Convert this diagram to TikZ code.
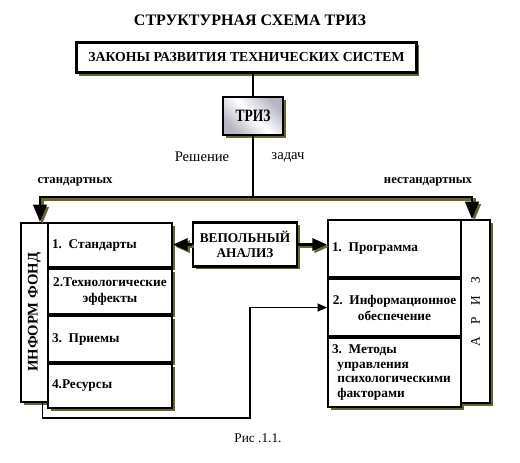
\documentclass[tikz,border=0pt]{standalone}
\usepackage{fontspec}
\setmainfont{Liberation Serif}
\newfontfamily\narrowserif[FakeStretch=0.78]{Liberation Serif}
\usetikzlibrary{positioning,arrows.meta,shadows}

\definecolor{shadowolive}{RGB}{104,100,48}
\definecolor{trizgray}{RGB}{180,180,195}

\tikzset{
  olive shadow/.style={drop shadow={shadow xshift=2.2pt,shadow yshift=-2.2pt,
      fill=shadowolive,opacity=1}},
  lawbox/.style={draw,line width=2.2pt,fill=white,olive shadow,inner sep=0pt,
      minimum width=255pt,minimum height=23pt,
      font=\bfseries\fontsize{10.3}{12}\selectfont},
  trizbox/.style={draw,line width=2pt,olive shadow,inner sep=0pt,
      minimum width=45pt,minimum height=28.5pt,
      left color=trizgray,right color=trizgray,middle color=white,shading angle=135,
      font=\narrowserif\bfseries\fontsize{13}{14}\selectfont},
  vepolbox/.style={draw,line width=2pt,fill=white,olive shadow,inner sep=0pt,
      minimum width=78pt,minimum height=33pt,align=center,
      font=\bfseries\fontsize{10}{11}\selectfont},
  stripbox/.style={draw,line width=1.5pt,fill=white,olive shadow,inner sep=0pt},
  cellbox/.style={draw,line width=1.5pt,fill=white,olive shadow,inner xsep=3pt,
      text width=87pt,align=left,font=\bfseries\fontsize{10}{12}\selectfont},
  cellboxr/.style={cellbox,text width=93.75pt},
  plaintext/.style={inner sep=0pt},
  bar/.style={line width=2.2pt,preaction={draw=shadowolive,line width=2.2pt,
      transform canvas={shift={(1.6pt,-1.6pt)}}}},
  stem/.style={line width=1.5pt},
  thinline/.style={line width=0.8pt},
}

\begin{document}
\begin{tikzpicture}[x=0.75pt,y=-0.75pt]
  \useasboundingbox (0,0) rectangle (520,462);

  % heading and top of the tree
  \node[plaintext,font=\bfseries\fontsize{12}{14}\selectfont] (title) at (250,20)
    {СТРУКТУРНАЯ СХЕМА ТРИЗ};
  \node[lawbox] (laws) at (246.5,57.5) {ЗАКОНЫ РАЗВИТИЯ ТЕХНИЧЕСКИХ СИСТЕМ};
  \node[trizbox] (triz) at (253,116) {ТРИЗ};
  \draw[stem] (triz.north |- laws.south) -- (triz.north);

  \node[plaintext,font=\fontsize{11}{13}\selectfont] (solve) at (202,157) {Решение};
  \node[plaintext,font=\fontsize{11}{13}\selectfont] (tasks) at (288,157) {задач};
  \node[plaintext,font=\bfseries\fontsize{9.5}{11}\selectfont] (stdlabel) at (75,182) {стандартных};
  \node[plaintext,font=\bfseries\fontsize{9.5}{11}\selectfont] (nonstdlabel) at (428,182) {нестандартных};

  \coordinate (split) at (253,197);
  \coordinate (lturn) at (40,197);
  \coordinate (rturn) at (472,197);

  % left block: information fund
  \node[stripbox,anchor=north west,minimum width=20pt,minimum height=134pt] (fond) at (20,222) {};
  \node[plaintext,rotate=90,font=\bfseries\fontsize{11}{13}\selectfont] (fondlabel) at (fond.center)
    {ИНФОРМ ФОНД};
  \node[cellbox,anchor=north west,minimum height=33pt] (std) at (47,222) {1. Стандарты};
  \node[cellbox,below=0pt of std,minimum height=34pt,align=center] (tech) {2.Технологические\\эффекты};
  \node[cellbox,below=0pt of tech,minimum height=34pt] (tricks) {3. Приемы};
  \node[cellbox,below=0pt of tricks,minimum height=33pt] (res) {4.Ресурсы};

  % right block: ARIZ
  \node[cellboxr,anchor=north west,minimum height=42.75pt] (prog) at (327,219) {1. Программа};
  \node[cellboxr,below=0pt of prog,minimum height=42.75pt,align=center] (info)
    {2. Информационное\\обеспечение};
  \node[cellboxr,below=0pt of info,minimum height=51.75pt,
    font=\bfseries\fontsize{10}{11}\selectfont] (methods)
    {3. Методы\\\hspace{4pt}управления\\\hspace{4pt}психологическими\\\hspace{4pt}факторами};
  \node[stripbox,anchor=north west,minimum width=21.75pt,minimum height=137.25pt] (ariz) at (460,219) {};
  \node[plaintext,rotate=90,font=\fontsize{10}{12}\selectfont] (arizlabel) at (ariz.center)
    {А\hspace{9pt}Р\hspace{9pt}И\hspace{9pt}З};

  % su-field analysis in the middle
  \node[vepolbox] (vepol) at (245,244.5) {ВЕПОЛЬНЫЙ\\АНАЛИЗ};

  % connectors
  \draw[stem] (triz.south) -- (split);
  \draw[bar,-{Triangle[width=10pt,length=13pt]}] (split) -- (lturn) -- (lturn |- fond.north);
  \draw[bar,-{Triangle[width=10pt,length=13pt]}] (split) -- (rturn) -- (rturn |- ariz.north);
  \draw[bar,-{Triangle[width=9pt,length=11pt]}] (vepol.west) -- (std.east |- vepol.west);
  \draw[bar,-{Triangle[width=9pt,length=11pt]}] (vepol.east) -- (prog.west |- vepol.east);

  \coordinate (detour) at (250,418);
  \draw[thinline,-{Triangle[width=6pt,length=7pt]}] ([xshift=6pt]fond.south) |- (detour) |- (info.west);

  \node[plaintext,font=\fontsize{10}{12}\selectfont] (caption) at (258,438) {Рис .1.1.};
\end{tikzpicture}
\end{document}
